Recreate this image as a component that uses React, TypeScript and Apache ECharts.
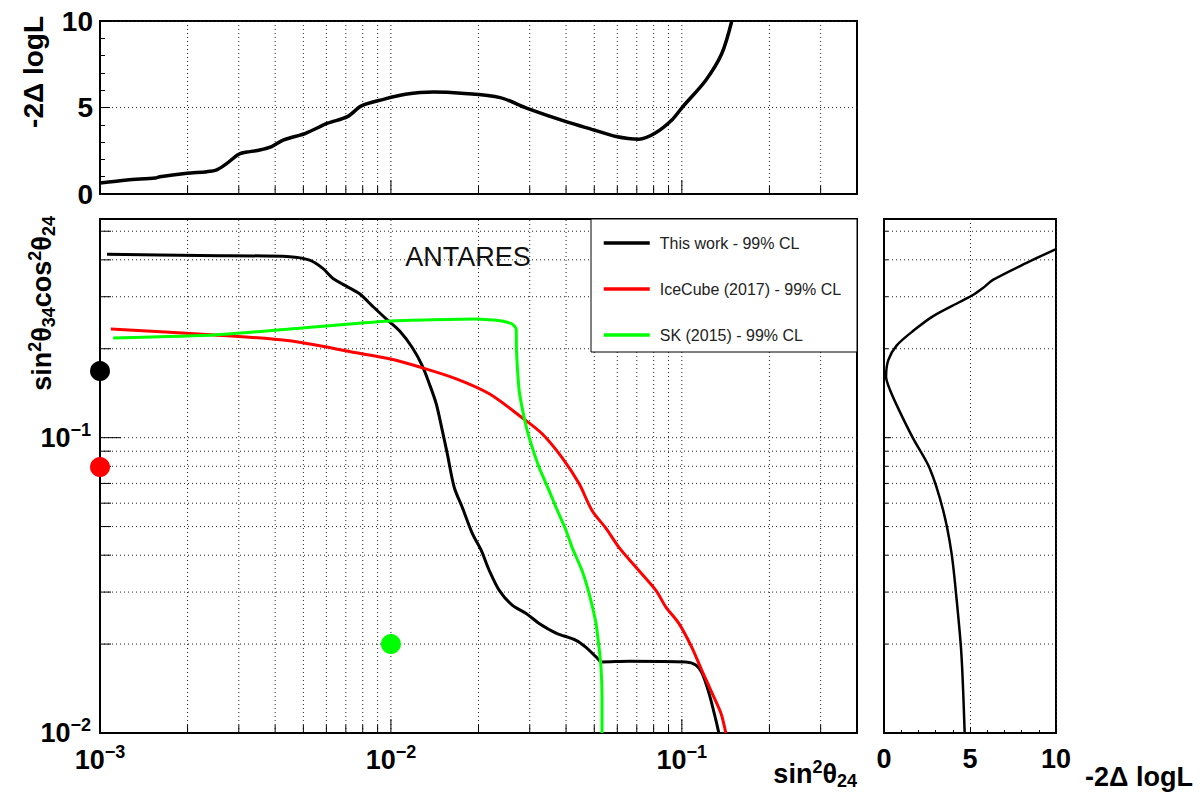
import React, { useEffect, useRef } from 'react';
import * as echarts from 'echarts';

// ---------- axis ranges & tick values ----------
const X_RANGE = [0.001, 0.4];
const Y_RANGE = [0.01, 0.55];
const xMinorTicks = [0.002, 0.003, 0.004, 0.005, 0.006, 0.007, 0.008, 0.009, 0.02, 0.03, 0.04, 0.05, 0.06, 0.07, 0.08, 0.09, 0.2, 0.3];
const xDecadeTicks = [0.01, 0.1];
const yMinorTicks = [0.02, 0.03, 0.04, 0.05, 0.06, 0.07, 0.08, 0.09, 0.2, 0.3, 0.4, 0.5];
const yDecadeTicks = [0.1];

// ---------- main panel contours ----------
const thisWorkX = [1.057e-3, 2.2e-3, 4.49e-3, 5.25e-3, 5.82e-3, 6.3e-3, 6.82e-3, 7.8e-3, 8.64e-3, 9.65e-3, 1.07e-2, 1.185e-2, 1.282e-2, 1.356e-2, 1.432e-2, 1.502e-2, 1.562e-2, 1.651e-2, 1.76e-2, 1.904e-2, 2.044e-2, 2.178e-2, 2.357e-2, 2.611e-2, 2.917e-2, 3.232e-2, 3.696e-2, 4.328e-2, 4.684e-2, 5.07e-2, 5.316e-2, 6.58e-2, 1.032e-1, 1.117e-1, 1.171e-1, 1.238e-1, 1.308e-1, 1.34e-1];
const thisWorkY = [0.418, 0.414, 0.41, 0.399, 0.375, 0.347, 0.331, 0.307, 0.279, 0.252, 0.23, 0.2015, 0.175, 0.152, 0.13, 0.1056, 0.0883, 0.0678, 0.058, 0.0474, 0.0415, 0.0355, 0.0304, 0.0271, 0.0254, 0.0235, 0.0218, 0.0206, 0.0195, 0.0181, 0.0174, 0.0175, 0.0174, 0.017, 0.016, 0.0137, 0.0111, 0.01];

const iceCubeX = [1.09e-3, 2.48e-3, 4.485e-3, 7.61e-3, 9.88e-3, 1.282e-2, 1.678e-2, 2.178e-2, 2.826e-2, 3.309e-2, 3.875e-2, 4.432e-2, 4.912e-2, 5.487e-2, 6.079e-2, 6.954e-2, 8.143e-2, 8.813e-2, 9.765e-2, 1.082e-1, 1.171e-1, 1.268e-1, 1.361e-1, 1.416e-1];
const iceCubeY = [0.2334, 0.2228, 0.2127, 0.1938, 0.1849, 0.1724, 0.1582, 0.1408, 0.1168, 0.1031, 0.0856, 0.0699, 0.0567, 0.0493, 0.0425, 0.0364, 0.0304, 0.0267, 0.0235, 0.0195, 0.0163, 0.0137, 0.0117, 0.01];

const skX = [1.11e-3, 2.48e-3, 4.485e-3, 9.88e-3, 1.965e-2, 2.413e-2, 2.611e-2, 2.695e-2, 2.7e-2, 2.716e-2, 2.76e-2, 2.871e-2, 2.987e-2, 3.232e-2, 3.497e-2, 3.696e-2, 4.0e-2, 4.194e-2, 4.538e-2, 4.797e-2, 5.07e-2, 5.191e-2, 5.274e-2, 5.316e-2, 5.316e-2];
const skY = [0.2177, 0.2228, 0.2334, 0.2484, 0.2523, 0.2484, 0.2427, 0.2334, 0.2015, 0.1778, 0.1441, 0.1168, 0.1, 0.0792, 0.0662, 0.058, 0.0485, 0.0425, 0.0355, 0.0297, 0.0235, 0.0195, 0.0167, 0.0132, 0.01];

// best-fit points [sin2theta24, sin2theta34cos2theta24]
const thisWorkBest = [0.001, 0.168];
const iceCubeBest = [0.001, 0.0795];
const skBest = [0.01, 0.02];

// ---------- top profile: -2 Delta logL vs sin2theta24 ----------
const profXX = [1.0e-3, 1.238e-3, 1.55e-3, 1.606e-3, 1.99e-3, 2.33e-3, 2.52e-3, 2.73e-3, 3.0e-3, 3.27e-3, 3.54e-3, 3.89e-3, 4.28e-3, 5.09e-3, 6.06e-3, 7.09e-3, 7.92e-3, 9.43e-3, 1.121e-2, 1.399e-2, 1.746e-2, 2.375e-2, 2.94e-2, 4.0e-2, 4.99e-2, 5.94e-2, 7.12e-2, 8.08e-2, 9.24e-2, 1.008e-1, 1.209e-1, 1.372e-1, 1.485e-1];
const profXL = [0.63, 0.81, 0.92, 1.0, 1.2, 1.29, 1.4, 1.77, 2.3, 2.45, 2.54, 2.74, 3.13, 3.51, 4.09, 4.47, 5.09, 5.47, 5.76, 5.89, 5.82, 5.57, 4.95, 4.18, 3.7, 3.32, 3.17, 3.51, 4.28, 5.05, 6.58, 8.12, 10.0];

// ---------- right profile: -2 Delta logL vs sin2theta34cos2theta24 ----------
const profYL = [10.0, 8.26, 6.33, 5.75, 5.17, 4.4, 2.86, 1.7, 0.73, 0.25, 0.12, 0.35, 0.93, 1.7, 2.66, 3.44, 3.92, 4.21, 4.5, 4.69];
const profYY = [0.435, 0.39, 0.342, 0.321, 0.304, 0.288, 0.258, 0.23, 0.205, 0.183, 0.161, 0.145, 0.122, 0.0992, 0.0786, 0.0567, 0.0409, 0.0288, 0.0185, 0.01];

const seriesNames = ['This work - 99% CL', 'IceCube (2017) - 99% CL', 'SK (2015) - 99% CL'];

const FONT = '"Liberation Sans", Arial, Helvetica, sans-serif';
const zip = (a: number[], b: number[]) => a.map((v, i) => [v, b[i]]);

const gridStyle = { stroke: '#222', lineWidth: 1, lineDash: [1, 3] };
const tickStyle = { stroke: '#000', lineWidth: 1 };

function vLines(xi: number, yi: number, xs: number[], yLo: number, yHi: number, style: any, z = 1) {
  return {
    type: 'custom', xAxisIndex: xi, yAxisIndex: yi, silent: true, z,
    data: xs.map((v) => [v, yLo]),
    renderItem: (_p: any, api: any) => {
      const v = api.value(0);
      const a = api.coord([v, yLo]);
      const b = api.coord([v, yHi]);
      return { type: 'line', shape: { x1: a[0], y1: a[1], x2: b[0], y2: b[1] }, style };
    },
  };
}
function hLines(xi: number, yi: number, ys: number[], xLo: number, xHi: number, style: any, z = 1) {
  return {
    type: 'custom', xAxisIndex: xi, yAxisIndex: yi, silent: true, z,
    data: ys.map((v) => [xLo, v]),
    renderItem: (_p: any, api: any) => {
      const v = api.value(1);
      const a = api.coord([xLo, v]);
      const b = api.coord([xHi, v]);
      return { type: 'line', shape: { x1: a[0], y1: a[1], x2: b[0], y2: b[1] }, style };
    },
  };
}
function vTicks(xi: number, yi: number, xs: number[], yAt: number, len: number) {
  return {
    type: 'custom', xAxisIndex: xi, yAxisIndex: yi, silent: true, z: 5,
    data: xs.map((v) => [v, yAt]),
    renderItem: (_p: any, api: any) => {
      const a = api.coord([api.value(0), yAt]);
      return { type: 'line', shape: { x1: a[0], y1: a[1], x2: a[0], y2: a[1] - len }, style: tickStyle };
    },
  };
}
function hTicks(xi: number, yi: number, ys: number[], xAt: number, len: number) {
  return {
    type: 'custom', xAxisIndex: xi, yAxisIndex: yi, silent: true, z: 5,
    data: ys.map((v) => [xAt, v]),
    renderItem: (_p: any, api: any) => {
      const a = api.coord([xAt, api.value(1)]);
      return { type: 'line', shape: { x1: a[0], y1: a[1], x2: a[0] + len, y2: a[1] }, style: tickStyle };
    },
  };
}

const richNum = {
  b: { fontSize: 27, fontWeight: 'bold', fontFamily: FONT, color: '#000', lineHeight: 34 },
  s: { fontSize: 18, fontWeight: 'bold', fontFamily: FONT, color: '#000', lineHeight: 18, verticalAlign: 'top' },
};
const decadeLabel = (v: number) => {
  const l = Math.log10(v);
  const n = Math.round(l);
  if (Math.abs(l - n) > 1e-6) return '';
  return `{b|10}{s|\u2212${-n}}`;
};
const richTitle = {
  b: { fontSize: 27, fontWeight: 'bold', fontFamily: FONT, color: '#000', lineHeight: 32 },
  p: { fontSize: 18, fontWeight: 'bold', fontFamily: FONT, color: '#000', lineHeight: 18, verticalAlign: 'top' },
  d: { fontSize: 18, fontWeight: 'bold', fontFamily: FONT, color: '#000', lineHeight: 18, verticalAlign: 'bottom' },
};

export default function App() {
  const ref = useRef<HTMLDivElement>(null);
  useEffect(() => {
    if (!ref.current) return;
    const chart = echarts.init(ref.current, undefined, { renderer: 'svg' });
    const xGrid = [...xMinorTicks, ...xDecadeTicks];
    const yGrid = [...yMinorTicks, ...yDecadeTicks];
    const axisLine = { show: true, lineStyle: { color: '#000', width: 2 } };
    const option: any = {
      animation: false,
      backgroundColor: '#fff',
      textStyle: { fontFamily: FONT },
      grid: [
        { left: 100, top: 21, width: 757, height: 173, show: true, borderColor: '#000', borderWidth: 2, backgroundColor: 'transparent' },
        { left: 100, top: 219, width: 757, height: 514, show: true, borderColor: '#000', borderWidth: 2, backgroundColor: 'transparent' },
        { left: 884, top: 219, width: 172, height: 514, show: true, borderColor: '#000', borderWidth: 2, backgroundColor: 'transparent' },
      ],
      xAxis: [
        { type: 'log', gridIndex: 0, min: X_RANGE[0], max: X_RANGE[1], axisLine, axisTick: { show: false }, axisLabel: { show: false }, splitLine: { show: false } },
        {
          type: 'log', gridIndex: 1, min: X_RANGE[0], max: X_RANGE[1], axisLine, axisTick: { show: false }, splitLine: { show: false },
          axisLabel: { show: true, margin: 10, formatter: decadeLabel, rich: richNum, showMinLabel: true, showMaxLabel: true },
        },
        {
          type: 'value', gridIndex: 2, min: 0, max: 10, interval: 5, axisLine,
          axisTick: { show: true, inside: true, length: 6, lineStyle: { color: '#000' } },
          minorTick: { show: true, splitNumber: 5, length: 3, lineStyle: { color: '#000' } },
          splitLine: { show: true, lineStyle: { color: '#222', width: 1, type: [1, 3] } },
          axisLabel: { show: true, margin: 12, fontSize: 27, fontWeight: 'bold', color: '#000', fontFamily: FONT },
        },
      ],
      yAxis: [
        {
          type: 'value', gridIndex: 0, min: 0, max: 10, interval: 5, axisLine,
          axisTick: { show: true, inside: true, length: 10, lineStyle: { color: '#000' } },
          minorTick: { show: true, splitNumber: 5, length: 5, lineStyle: { color: '#000' } },
          splitLine: { show: true, lineStyle: { color: '#222', width: 1, type: [1, 3] } },
          axisLabel: { show: true, margin: 7, fontSize: 28, fontWeight: 'bold', color: '#000', fontFamily: FONT },
        },
        {
          type: 'log', gridIndex: 1, min: Y_RANGE[0], max: Y_RANGE[1], axisLine, axisTick: { show: false }, splitLine: { show: false },
          axisLabel: { show: true, margin: 9, formatter: decadeLabel, rich: richNum, showMinLabel: true, showMaxLabel: true },
        },
        { type: 'log', gridIndex: 2, min: Y_RANGE[0], max: Y_RANGE[1], axisLine, axisTick: { show: false }, axisLabel: { show: false }, splitLine: { show: false } },
      ],
      legend: {
        data: seriesNames, orient: 'vertical', left: 602, top: 235, padding: 0,
        itemWidth: 46, itemHeight: 14, itemGap: 30, selectedMode: false, z: 30,
        itemStyle: { opacity: 0 },
        lineStyle: { width: 3.5 },
        textStyle: { fontSize: 16, color: '#222', fontFamily: FONT, padding: [0, 0, 0, 5] },
      },
      series: [
        // grid lines
        vLines(1, 1, xGrid, Y_RANGE[0], Y_RANGE[1], gridStyle),
        hLines(1, 1, yGrid, X_RANGE[0], X_RANGE[1], gridStyle),
        vLines(0, 0, xGrid, 0, 10, gridStyle),
        hLines(2, 2, yGrid, 0, 10, gridStyle),
        // tick marks
        vTicks(0, 0, xMinorTicks, 0, 8),
        vTicks(0, 0, xDecadeTicks, 0, 14),
        vTicks(1, 1, xMinorTicks, Y_RANGE[0], 8),
        vTicks(1, 1, xDecadeTicks, Y_RANGE[0], 14),
        hTicks(1, 1, yMinorTicks, X_RANGE[0], 11),
        hTicks(1, 1, yDecadeTicks, X_RANGE[0], 21),
        hTicks(2, 2, yMinorTicks, 0, 4),
        hTicks(2, 2, yDecadeTicks, 0, 7),
        // contours
        {
          name: seriesNames[0], type: 'line', xAxisIndex: 1, yAxisIndex: 1, data: zip(thisWorkX, thisWorkY),
          showSymbol: false, symbol: 'none', smooth: 0.3, color: '#000', lineStyle: { color: '#000', width: 3 }, z: 10,
        },
        {
          name: seriesNames[1], type: 'line', xAxisIndex: 1, yAxisIndex: 1, data: zip(iceCubeX, iceCubeY),
          showSymbol: false, symbol: 'none', smooth: 0.3, color: '#ff0000', lineStyle: { color: '#ff0000', width: 3 }, z: 10,
        },
        {
          name: seriesNames[2], type: 'line', xAxisIndex: 1, yAxisIndex: 1, data: zip(skX, skY),
          showSymbol: false, symbol: 'none', smooth: 0.15, color: '#00ff00', lineStyle: { color: '#00ff00', width: 3 }, z: 10,
        },
        // best fit points
        { name: 'This work best fit', type: 'scatter', xAxisIndex: 1, yAxisIndex: 1, data: [thisWorkBest], symbolSize: 20, clip: false, itemStyle: { color: '#000', opacity: 1 }, z: 12 },
        { name: 'IceCube best fit', type: 'scatter', xAxisIndex: 1, yAxisIndex: 1, data: [iceCubeBest], symbolSize: 20, clip: false, itemStyle: { color: '#ff0000', opacity: 1 }, z: 12 },
        { name: 'SK best fit', type: 'scatter', xAxisIndex: 1, yAxisIndex: 1, data: [skBest], symbolSize: 20, clip: false, itemStyle: { color: '#00ff00', opacity: 1 }, z: 12 },
        // profiles
        {
          name: 'profile sin2theta24', type: 'line', xAxisIndex: 0, yAxisIndex: 0, data: zip(profXX, profXL),
          showSymbol: false, symbol: 'none', smooth: 0.3, lineStyle: { color: '#000', width: 3.5 }, z: 10,
        },
        {
          name: 'profile sin2theta34', type: 'line', xAxisIndex: 2, yAxisIndex: 2, data: zip(profYL, profYY),
          showSymbol: false, symbol: 'none', smooth: 0.3, lineStyle: { color: '#000', width: 2.5 }, z: 10,
        },
      ],
      graphic: [
        { type: 'rect', z: 20, shape: { x: 591, y: 219, width: 266, height: 133 }, style: { fill: '#fff', stroke: '#000', lineWidth: 1 } },
        { type: 'text', z: 30, x: 468, y: 257, style: { text: 'ANTARES', fontSize: 27, fontFamily: FONT, fill: '#111', align: 'center', verticalAlign: 'middle' } },
        { type: 'text', z: 30, x: 33, y: 16, rotation: Math.PI / 2, style: { text: '-2\u0394 logL', fontSize: 28, fontWeight: 'bold', fontFamily: FONT, fill: '#000', align: 'right', verticalAlign: 'middle' } },
        {
          type: 'text', z: 30, x: 42, y: 216, rotation: Math.PI / 2,
          style: { text: '{b|sin}{p|2}{b|\u03b8}{d|34}{b|cos}{p|2}{b|\u03b8}{d|24}', rich: richTitle, align: 'right', verticalAlign: 'middle' },
        },
        {
          type: 'text', z: 30, x: 857, y: 774,
          style: { text: '{b|sin}{p|2}{b|\u03b8}{d|24}', rich: richTitle, align: 'right', verticalAlign: 'middle' },
        },
        { type: 'text', z: 30, x: 1085, y: 777, style: { text: '-2\u0394 logL', fontSize: 27, fontWeight: 'bold', fontFamily: FONT, fill: '#000', align: 'left', verticalAlign: 'middle' } },
      ],
    };
    chart.setOption(option);
    return () => chart.dispose();
  }, []);
  return <div ref={ref} style={{ position: 'fixed', left: 0, top: 0, width: 1202, height: 794, background: '#fff' }} />;
}
